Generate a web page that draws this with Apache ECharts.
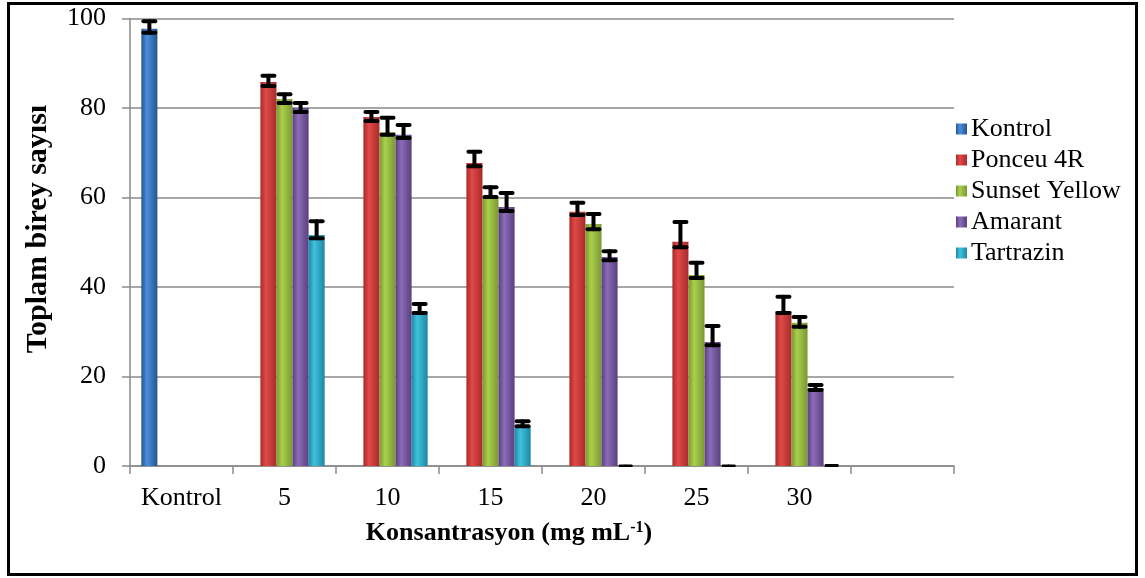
<!DOCTYPE html>
<html>
<head>
<meta charset="utf-8">
<script src="https://cdn.jsdelivr.net/npm/echarts@6/dist/echarts.min.js"></script>
<style>
  body { margin: 0; background: #fff; }
  #main { width: 1145px; height: 578px; }
</style>
</head>
<body>
<div id="main"></div>
<script>
// kategoriler (son kategori bos)
var categories = ['Kontrol', '5', '10', '15', '20', '25', '30', ''];
var seriesNames = ['Kontrol', 'Ponceu 4R', 'Sunset Yellow', 'Amarant', 'Tartrazin'];

// bar degerleri
var kontrol   = [97.7, null, null, null, null, null, null, null];
var ponceu    = [null, 85.8, 78.0, 67.7, 56.8, 50.1, 34.6, null];
var sunset    = [null, 82.0, 74.6, 60.1, 54.1, 42.7, 32.0, null];
var amarant   = [null, 80.0, 74.0, 57.9, 46.7, 27.7, 17.4, null];
var tartrazin = [null, 51.6, 34.6, 8.7, 0, 0, 0, null];

// hata cubuklari: alt ve ust uclar
var kontrolLo   = [96.8, null, null, null, null, null, null, null];
var kontrolHi   = [99.4, null, null, null, null, null, null, null];
var ponceuLo    = [null, 84.9, 77.1, 67.0, 56.1, 48.9, 34.2, null];
var ponceuHi    = [null, 87.2, 79.1, 70.2, 58.8, 54.5, 37.8, null];
var sunsetLo    = [null, 81.1, 74.0, 60.1, 52.9, 42.0, 31.1, null];
var sunsetHi    = [null, 83.1, 77.8, 62.3, 56.3, 45.4, 33.3, null];
var amarantLo   = [null, 79.1, 73.3, 57.0, 46.0, 27.0, 17.0, null];
var amarantHi   = [null, 81.1, 76.2, 61.0, 48.0, 31.3, 18.1, null];
var tartrazinLo = [null, 50.9, 34.2, 8.9, 0, 0, 0, null];
var tartrazinHi = [null, 54.7, 36.2, 10.0, 0.1, 0.1, 0.2, null];

var yMin = 0, yMax = 100, yStep = 20;

var values = [kontrol, ponceu, sunset, amarant, tartrazin];
var lows = [kontrolLo, ponceuLo, sunsetLo, amarantLo, tartrazinLo];
var highs = [kontrolHi, ponceuHi, sunsetHi, amarantHi, tartrazinHi];

// renkler: kenar / orta
var colors = [
  ['#25558c', '#4a8ee0'],
  ['#a82a2a', '#e04a47'],
  ['#7a9733', '#aad04c'],
  ['#5a3f7e', '#8c6cb8'],
  ['#1d87a5', '#40c2de']
];
var CAT_GAP = 0.22;
var FONT = '"Liberation Serif", "Times New Roman", serif';

function grad(c) {
  return new echarts.graphic.LinearGradient(0, 0, 1, 0, [
    { offset: 0, color: c[0] },
    { offset: 0.35, color: c[1] },
    { offset: 1, color: c[0] }
  ]);
}

var series = [];
for (var i = 0; i < seriesNames.length; i++) {
  series.push({
    name: seriesNames[i],
    type: 'bar',
    data: values[i],
    barGap: '0%',
    barCategoryGap: (CAT_GAP * 100) + '%',
    itemStyle: { color: grad(colors[i]) }
  });
}

// hata cubugu verisi [kategori, seri, alt, ust]
var errData = [];
for (var s = 0; s < seriesNames.length; s++) {
  for (var c = 0; c < categories.length; c++) {
    if (lows[s][c] != null) {
      errData.push([c, s, lows[s][c], highs[s][c]]);
    }
  }
}

function renderError(params, api) {
  var cat = api.value(0), si = api.value(1);
  var band = api.size([1, 0])[0];
  var bw = band * (1 - CAT_GAP) / seriesNames.length;
  var x = api.coord([cat, 0])[0] - band * (1 - CAT_GAP) / 2 + bw * (si + 0.5);
  var yLo = api.coord([cat, api.value(2)])[1];
  var yHi = api.coord([cat, api.value(3)])[1];
  var w = 6;
  var flat = api.value(3) - api.value(2) < 0.5;
  var st = { stroke: '#000', lineWidth: flat ? 2 : 4, lineCap: 'round' };
  return {
    type: 'group',
    children: [
      { type: 'line', shape: { x1: x, y1: yLo, x2: x, y2: yHi }, style: st },
      { type: 'line', shape: { x1: x - w, y1: yLo, x2: x + w, y2: yLo }, style: st },
      { type: 'line', shape: { x1: x - w, y1: yHi, x2: x + w, y2: yHi }, style: st }
    ]
  };
}

series.push({
  type: 'custom',
  renderItem: renderError,
  data: errData,
  encode: { x: 0, y: [2, 3] },
  z: 10,
  silent: true
});

var chart = echarts.init(document.getElementById('main'));
var gray = '#8a8a8a';
chart.setOption({
  animation: false,
  textStyle: { fontFamily: FONT },
  grid: { left: 130, right: 191, top: 18.5, bottom: 112 },
  legend: {
    data: seriesNames,
    orient: 'vertical',
    left: 951,
    top: 111,
    icon: 'rect',
    itemWidth: 11,
    itemHeight: 11,
    itemGap: 5,
    textStyle: { fontFamily: FONT, fontSize: 26, color: '#000', padding: [0, 0, 0, -1] }
  },
  xAxis: {
    type: 'category',
    data: categories,
    axisLine: { lineStyle: { color: gray, width: 1.5 } },
    axisTick: { show: true, length: 8, lineStyle: { color: gray, width: 1.5 } },
    axisLabel: { interval: 0, margin: 19, fontSize: 26, color: '#000', fontFamily: FONT },
    splitLine: { show: false }
  },
  yAxis: {
    type: 'value',
    min: yMin,
    max: yMax,
    interval: yStep,
    axisLine: { show: true, lineStyle: { color: gray, width: 1.5 } },
    axisTick: { show: true, length: 8, lineStyle: { color: gray, width: 1.5 } },
    axisLabel: { margin: 24, fontSize: 26, color: '#000', fontFamily: FONT },
    splitLine: { lineStyle: { color: gray, width: 1.5 } }
  },
  graphic: [
    {
      type: 'rect',
      shape: { x: 8.5, y: 3.5, width: 1128, height: 571 },
      style: { fill: 'none', stroke: '#000', lineWidth: 3 },
      z: 100
    },
    {
      type: 'text',
      x: 38,
      y: 229,
      rotation: Math.PI / 2,
      style: {
        text: 'Toplam birey sayısı',
        font: 'bold 30px ' + FONT,
        fill: '#000',
        align: 'center',
        verticalAlign: 'middle'
      }
    },
    {
      type: 'text',
      x: 509,
      y: 533,
      style: {
        text: 'Konsantrasyon (mg mL{sup|-1})',
        font: 'bold 26px ' + FONT,
        fill: '#000',
        align: 'center',
        verticalAlign: 'middle',
        rich: {
          sup: { fontSize: 16, fontWeight: 'bold', fontFamily: FONT, verticalAlign: 'top', padding: [0, 0, 11, 0] }
        }
      }
    }
  ],
  series: series
});
</script>
</body>
</html>
